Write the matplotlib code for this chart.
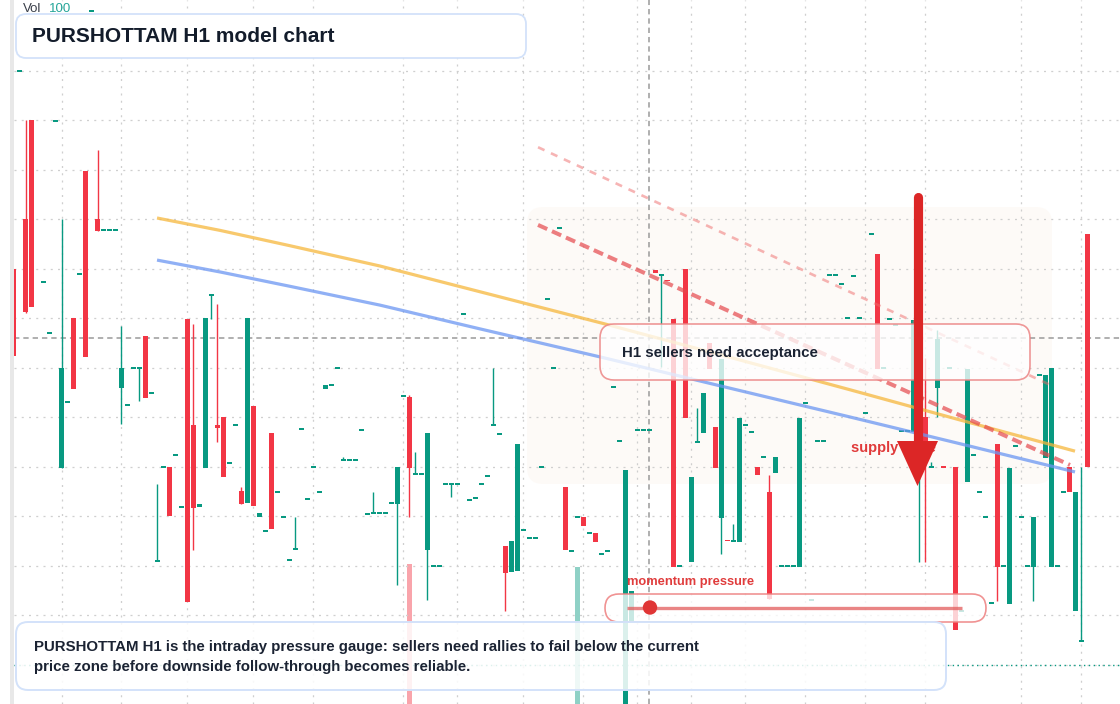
import numpy as np
import matplotlib
matplotlib.use("Agg")
import matplotlib.pyplot as plt
from matplotlib.patches import FancyBboxPatch, Rectangle, Circle, Polygon
from matplotlib.transforms import Affine2D

plt.rcParams['font.family'] = ['Liberation Sans', 'DejaVu Sans']

# ---------------- data (H1 candles, one slot per bar) ----------------
opens = [
    104.00, 108.00, 105.01, 107.01, None, 103.74, 102.71, 106.99, 99.98, 101.31,
    103.01, 103.90, 105.98, 109.21, 105.01, 104.79, 104.79, 104.79, 101.60, 101.25,
    102.00, 102.00, 102.65, 101.49, 98.10, 100.00, 100.00, 100.24, 99.19, 102.99,
    100.85, 99.19, 99.98, 103.47, 100.85, 101.01, 100.08, 100.85, 99.52, 99.27,
    101.23, 98.99, 98.71, 100.69, 99.49, 98.99, 98.12, 98.34, 100.77, 99.35,
    100.00, 99.49, 101.58, 101.66, 102.00, 100.14, 100.14, 100.14, 100.75, 99.05,
    99.07, 99.07, 99.07, 99.27, 99.25, 101.43, 101.41, 99.86, 99.86, 98.32,
    98.00, 98.00, 99.66, 99.66, 99.66, 103.09, 99.33, 99.37, 99.66, 99.82,
    100.85, 100.67, 98.40, 97.88, 97.90, 98.73, 98.57, 98.57, 100.00, 103.39,
    102.00, 104.83, 99.60, 98.30, 98.99, 98.99, 98.67, 98.67, 98.24, 98.30,
    101.62, 100.53, 94.89, 96.87, 100.75, 100.75, 100.75, 103.98, 103.88, 103.77,
    102.99, 98.00, 104.00, 98.08, 100.51, 100.69, 102.51, 100.81, 98.97, 98.52,
    98.51, 98.48, 100.85, 100.71, 100.00, 100.20, 99.49, 99.88, 98.00, 98.00,
    98.00, 97.98, 101.29, 97.31, 100.53, 100.53, 103.88, 103.88, 103.70, 103.01,
    103.86, 103.01, 101.09, 104.71, 104.30, 102.00, 102.99, 102.87, 100.73, 100.73,
    100.71, 100.55, 101.01, 100.00, 101.60, 100.01, 102.00, 100.00, 97.09, 99.70,
    100.24, 99.49, 98.99, 97.25, 100.46, 98.00, 97.23, 100.42, 98.99, 98.00,
    97.98, 101.86, 100.18, 97.98, 98.00, 99.49, 100.00, 97.09, 96.48, 104.71,
]
highs = [
    104.00, 108.00, 107.01, 107.01, None, 103.74, 102.71, 106.99, 105.01, 101.31,
    103.01, 103.90, 105.98, 109.21, 106.40, 104.79, 104.79, 104.79, 102.85, 101.25,
    102.00, 102.00, 102.65, 101.49, 99.66, 100.00, 100.00, 100.24, 99.19, 102.99,
    102.89, 99.25, 103.01, 103.47, 103.29, 101.01, 100.08, 100.85, 99.60, 103.01,
    101.23, 99.07, 98.71, 100.69, 99.49, 98.99, 98.12, 98.99, 100.77, 99.35,
    100.00, 99.49, 101.66, 101.66, 102.00, 100.20, 100.14, 100.14, 100.75, 99.05,
    99.49, 99.07, 99.07, 99.27, 100.00, 101.43, 101.45, 100.30, 99.86, 100.69,
    98.00, 98.00, 99.66, 99.66, 99.66, 103.09, 99.33, 99.37, 99.66, 99.82,
    102.00, 100.67, 98.40, 98.51, 100.46, 98.73, 98.57, 98.57, 100.00, 103.39,
    102.00, 104.83, 99.60, 98.30, 98.99, 98.99, 98.67, 98.67, 98.24, 98.30,
    101.62, 100.53, 99.94, 97.49, 100.75, 100.75, 100.75, 103.98, 103.88, 103.77,
    102.99, 98.00, 104.00, 99.80, 101.19, 101.49, 102.51, 100.81, 102.18, 98.52,
    98.85, 100.99, 100.85, 100.71, 100.00, 100.20, 99.84, 100.20, 98.00, 98.00,
    98.00, 100.99, 101.29, 97.31, 100.53, 100.53, 103.88, 103.88, 103.70, 103.01,
    103.86, 103.01, 101.09, 104.71, 104.30, 102.00, 102.99, 102.87, 100.73, 100.73,
    102.97, 100.55, 102.20, 100.10, 102.77, 100.01, 102.00, 100.00, 97.09, 101.98,
    100.24, 99.49, 98.99, 97.25, 100.46, 98.00, 99.98, 100.42, 98.99, 98.00,
    98.99, 101.86, 101.86, 102.00, 98.00, 99.49, 100.00, 99.49, 100.00, 104.71,
]
lows = [
    102.24, 108.00, 103.11, 103.23, None, 103.74, 102.71, 106.99, 99.98, 101.31,
    101.58, 103.90, 102.22, 109.21, 104.77, 104.79, 104.79, 104.79, 100.87, 101.25,
    102.00, 101.33, 101.39, 101.49, 98.10, 100.00, 99.01, 100.24, 99.19, 97.27,
    98.32, 99.19, 99.98, 102.99, 100.51, 99.80, 100.08, 100.85, 99.25, 99.27,
    99.21, 98.99, 98.71, 98.75, 99.49, 98.99, 98.12, 98.34, 100.77, 99.35,
    100.00, 99.49, 101.58, 101.66, 102.00, 100.14, 100.14, 100.14, 100.75, 99.05,
    99.07, 99.07, 99.07, 99.27, 97.62, 101.43, 98.99, 99.86, 99.86, 97.31,
    98.00, 98.00, 99.66, 99.39, 99.66, 103.09, 99.33, 99.37, 99.66, 99.82,
    100.85, 100.67, 97.09, 97.88, 97.90, 98.73, 98.57, 98.57, 100.00, 103.39,
    102.00, 104.83, 98.32, 98.30, 98.99, 98.81, 98.67, 98.48, 98.24, 98.30,
    101.62, 100.53, 94.89, 96.87, 100.75, 100.75, 100.75, 103.92, 102.02, 103.76,
    97.98, 98.00, 100.99, 98.08, 100.51, 100.69, 101.98, 99.98, 98.24, 98.51,
    98.51, 98.48, 100.85, 100.71, 99.84, 100.20, 97.33, 99.88, 98.00, 98.00,
    98.00, 97.98, 101.29, 97.31, 100.53, 100.53, 103.88, 103.88, 103.70, 103.01,
    103.86, 103.01, 101.09, 104.71, 101.98, 102.00, 102.99, 102.87, 100.73, 100.73,
    100.71, 98.08, 98.08, 100.00, 101.01, 100.00, 102.00, 96.71, 97.09, 99.70,
    100.24, 99.49, 98.99, 97.25, 97.29, 98.00, 97.23, 100.42, 98.99, 98.00,
    97.29, 101.86, 100.18, 97.98, 98.00, 99.49, 99.49, 97.09, 96.48, 100.00,
]
closes = [
    102.24, 108.00, 103.13, 103.23, None, 103.74, 102.71, 106.99, 102.00, 101.31,
    101.58, 103.90, 102.22, 109.21, 104.77, 104.79, 104.79, 104.79, 102.00, 101.25,
    102.00, 102.00, 101.39, 101.49, 98.10, 100.00, 99.01, 100.24, 99.19, 97.27,
    99.17, 99.25, 103.01, 103.47, 100.79, 99.80, 100.08, 100.85, 99.25, 103.01,
    99.21, 99.07, 98.71, 98.75, 99.49, 98.99, 98.12, 98.34, 100.77, 99.35,
    100.00, 99.49, 101.66, 101.66, 102.00, 100.14, 100.14, 100.14, 100.75, 99.05,
    99.07, 99.07, 99.07, 99.27, 100.00, 101.43, 99.98, 99.86, 99.86, 100.69,
    98.00, 98.00, 99.66, 99.66, 99.66, 103.09, 99.33, 99.37, 99.66, 99.82,
    100.85, 100.67, 97.86, 98.51, 100.46, 98.73, 98.57, 98.57, 100.00, 103.39,
    102.00, 104.83, 98.32, 98.30, 98.99, 98.81, 98.67, 98.48, 98.24, 98.30,
    101.62, 100.53, 99.94, 97.49, 100.75, 100.75, 100.75, 103.92, 103.88, 103.76,
    97.98, 98.00, 100.99, 99.80, 100.51, 101.49, 101.98, 99.98, 102.18, 98.51,
    98.51, 100.99, 100.85, 100.71, 99.84, 100.20, 97.33, 100.20, 98.00, 98.00,
    98.00, 100.99, 101.29, 97.31, 100.53, 100.53, 103.88, 103.88, 103.70, 103.01,
    103.86, 103.01, 101.09, 104.71, 101.98, 102.00, 102.99, 102.87, 100.73, 100.73,
    102.97, 100.55, 100.51, 100.00, 102.59, 100.00, 102.00, 96.71, 97.09, 101.98,
    100.24, 99.49, 98.99, 97.25, 97.98, 98.00, 99.98, 100.42, 98.99, 98.00,
    98.99, 101.86, 101.86, 102.00, 98.00, 99.49, 99.49, 99.49, 96.48, 100.00,
]
volume_bars = [66, 94, 102]
volume_values = [100, 98, 100]

session_breaks = [8, 18, 29, 40, 50, 65, 74, 85, 95, 104, 113, 122, 132, 142, 152, 168, 178]
price_levels = [96, 97, 98, 99, 100, 101, 102, 103, 104, 105, 106, 107, 108]

model_x = [23.92, 34.42, 46.08, 61.08, 77.75, 98.25, 117.75, 139.42, 157.75, 176.92]
ema_fast_y = [105.03, 104.78, 104.47, 104.06, 103.54, 102.90, 102.27, 101.56, 100.95, 100.32]
ema_slow_y = [104.18, 103.94, 103.65, 103.27, 102.79, 102.21, 101.64, 101.01, 100.47, 99.90]
sell_trend_x = [87.42, 176.08]
sell_trend_y = [104.89, 100.04]
upper_trend_x = [87.42, 172.75]
upper_trend_y = [106.46, 101.66]

cursor_slot, cursor_price = 106, 102.61
last_price_line = 96.0

title = "PURSHOTTAM H1 model chart"
callout = "H1 sellers need acceptance"
zone_label = "supply zone"
gauge_label = "momentum pressure"
note_line1 = "PURSHOTTAM H1 is the intraday pressure gauge: sellers need rallies to fail below the current"
note_line2 = "price zone before downside follow-through becomes reliable."

# ---------------- figure ----------------
W, H = 1120, 704
fig = plt.figure(figsize=(W / 100, H / 100), dpi=100)
fig.patch.set_facecolor('white')
left = 13.7
ax = fig.add_axes([left / W, 0, 1 - left / W, 1])
axv = ax.twinx()
for a in (ax, axv):
    for s in a.spines.values():
        s.set_visible(False)
    a.set_xticks([])
    a.set_yticks([])
ax.set_zorder(2)
axv.set_zorder(1)
ax.patch.set_visible(False)
axv.patch.set_visible(False)

ax.set_xlim(0.0333, 184.417)
ax.set_ylim(95.212, 109.434)
axv.set_ylim(0, 502.9)

px = Affine2D().scale(1 / W, -1 / H).translate(0, 1) + fig.transFigure

RED = '#f23645'
GREEN = '#089981'

# left scale stripe
fig.patches.append(Rectangle((10 / W, 0), 3.7 / W, 1, transform=fig.transFigure,
                             facecolor='#e8e8e8', edgecolor='none', zorder=5))

# supply zone shading
ax.add_patch(FancyBboxPatch((527, 207), 525, 277, boxstyle="round,pad=0,rounding_size=16",
                            transform=px, facecolor='#fbefe4', alpha=0.28,
                            edgecolor='none', zorder=0.5, clip_on=False))

# grid
for p in price_levels:
    ax.axhline(p, color='#cfcfcf', lw=0.9, dashes=(1.6, 4.2), zorder=1)
for s in session_breaks:
    ax.axvline(s, color='#cfcfcf', lw=0.9, dashes=(1.6, 4.2), zorder=1)

# volume
for i, v in zip(volume_bars, volume_values):
    c = RED if closes[i] < opens[i] else GREEN
    axv.bar(i, v, width=5 / 6, color=c, alpha=0.45, linewidth=0)

# crosshair
ax.axhline(cursor_price, color='#9a9a9a', lw=1.1, dashes=(3.5, 2.6), zorder=2)
ax.axvline(cursor_slot, color='#9a9a9a', lw=1.1, dashes=(3.5, 2.6), zorder=2)
ax.axhline(last_price_line, color=GREEN, lw=1.0, dashes=(1, 2.5), zorder=2)

# candles
bw = 5 / 6
min_body = 0.034
for i, (o, h, l, c) in enumerate(zip(opens, highs, lows, closes)):
    if o is None:
        continue
    col = RED if c < o else GREEN
    lo, hi = min(o, c), max(o, c)
    if hi - lo < min_body:
        mid = (hi + lo) / 2
        lo, hi = mid - min_body / 2, mid + min_body / 2
    if h > hi + 0.005 or l < lo - 0.005:
        ax.vlines(i, l, h, color=col, lw=1.0, zorder=3)
    ax.bar(i, hi - lo, bottom=lo, width=bw, color=col, linewidth=0, zorder=3.1)

# model lines
ax.plot(model_x, ema_fast_y, color='#f6b73c', alpha=0.75, lw=2.3,
        solid_capstyle='butt', solid_joinstyle='round', zorder=4)
ax.plot(model_x, ema_slow_y, color='#6b96f2', alpha=0.75, lw=2.3,
        solid_capstyle='butt', solid_joinstyle='round', zorder=4)
ax.plot(sell_trend_x, sell_trend_y, color='#e5484d', alpha=0.7, lw=2.9,
        dashes=(2.5, 1.3), zorder=4.1)
ax.plot(upper_trend_x, upper_trend_y, color='#ef6b6b', alpha=0.5, lw=1.9,
        dashes=(2.7, 2.7), zorder=4.1)

# callout box
ax.add_patch(FancyBboxPatch((600, 324), 430, 56, boxstyle="round,pad=0,rounding_size=14",
                            transform=px, facecolor='white', alpha=0.78, edgecolor='none',
                            zorder=6, clip_on=False))
ax.add_patch(FancyBboxPatch((600, 324), 430, 56, boxstyle="round,pad=0,rounding_size=14",
                            transform=px, facecolor='none', edgecolor='#ec8585', lw=1.2,
                            alpha=0.85, zorder=6.1, clip_on=False))
ax.text(622, 353, callout, transform=px, fontsize=10.8, fontweight='bold',
        color='#1b2333', va='center', ha='left', zorder=6.2)

# supply zone label + arrow
ax.text(851, 448, zone_label, transform=px, fontsize=10.5, fontweight='bold',
        color='#e03a3a', va='center', ha='left', zorder=6.3)
ax.plot([917.5, 917.5], [197, 446], transform=px, color='#dc2626', lw=6.6,
        solid_capstyle='round', zorder=6.5, clip_on=False)
ax.add_patch(Polygon([(897, 441), (938, 441), (917.5, 486)], closed=True, transform=px,
                     facecolor='#dc2626', edgecolor='none', zorder=6.5, clip_on=False))

# momentum gauge
ax.add_patch(FancyBboxPatch((605, 594), 381, 28, boxstyle="round,pad=0,rounding_size=14",
                            transform=px, facecolor='white', alpha=0.78, edgecolor='none',
                            zorder=7, clip_on=False))
ax.add_patch(FancyBboxPatch((605, 594), 381, 28, boxstyle="round,pad=0,rounding_size=14",
                            transform=px, facecolor='none', edgecolor='#ee8080', lw=1.2,
                            alpha=0.85, zorder=7.1, clip_on=False))
ax.plot([627, 962], [607.5, 607.5], transform=px, color='#e25c5c', alpha=0.75, lw=2.4,
        solid_capstyle='butt', zorder=7.2, clip_on=False)
ax.add_patch(Circle((650, 607.5), 7.2, transform=px, facecolor='#e03535',
                    edgecolor='none', zorder=7.3, clip_on=False))
ax.text(627, 582, gauge_label, transform=px, fontsize=9.3, fontweight='bold',
        color='#e03c3c', va='center', ha='left', zorder=7.3)

# bottom note
ax.add_patch(FancyBboxPatch((16, 622), 930, 68, boxstyle="round,pad=0,rounding_size=12",
                            transform=px, facecolor='white', alpha=0.86, edgecolor='none',
                            zorder=8, clip_on=False))
ax.add_patch(FancyBboxPatch((16, 622), 930, 68, boxstyle="round,pad=0,rounding_size=12",
                            transform=px, facecolor='none', edgecolor='#d3e2fa', lw=1.4,
                            zorder=8.1, clip_on=False))
ax.text(34, 647, note_line1, transform=px, fontsize=10.8, fontweight='bold',
        color='#1b2333', va='center', ha='left', zorder=8.2)
ax.text(34, 667, note_line2, transform=px, fontsize=10.8, fontweight='bold',
        color='#1b2333', va='center', ha='left', zorder=8.2)

# title
ax.add_patch(FancyBboxPatch((16, 14), 510, 44, boxstyle="round,pad=0,rounding_size=10",
                            transform=px, facecolor='white', edgecolor='#d3e2fa', lw=1.3,
                            zorder=8, clip_on=False))
ax.text(32, 36, title, transform=px, fontsize=15, fontweight='bold',
        color='#131c2b', va='center', ha='left', zorder=8.2)
ax.text(23, 9, "Vol", transform=px, fontsize=9.5, color='#3a3f4a',
        va='center', ha='left', zorder=8.2)
ax.text(49, 9, "100", transform=px, fontsize=9.5, color='#26a69a',
        va='center', ha='left', zorder=8.2)

fig.savefig('out.png', dpi=100, facecolor='white')
